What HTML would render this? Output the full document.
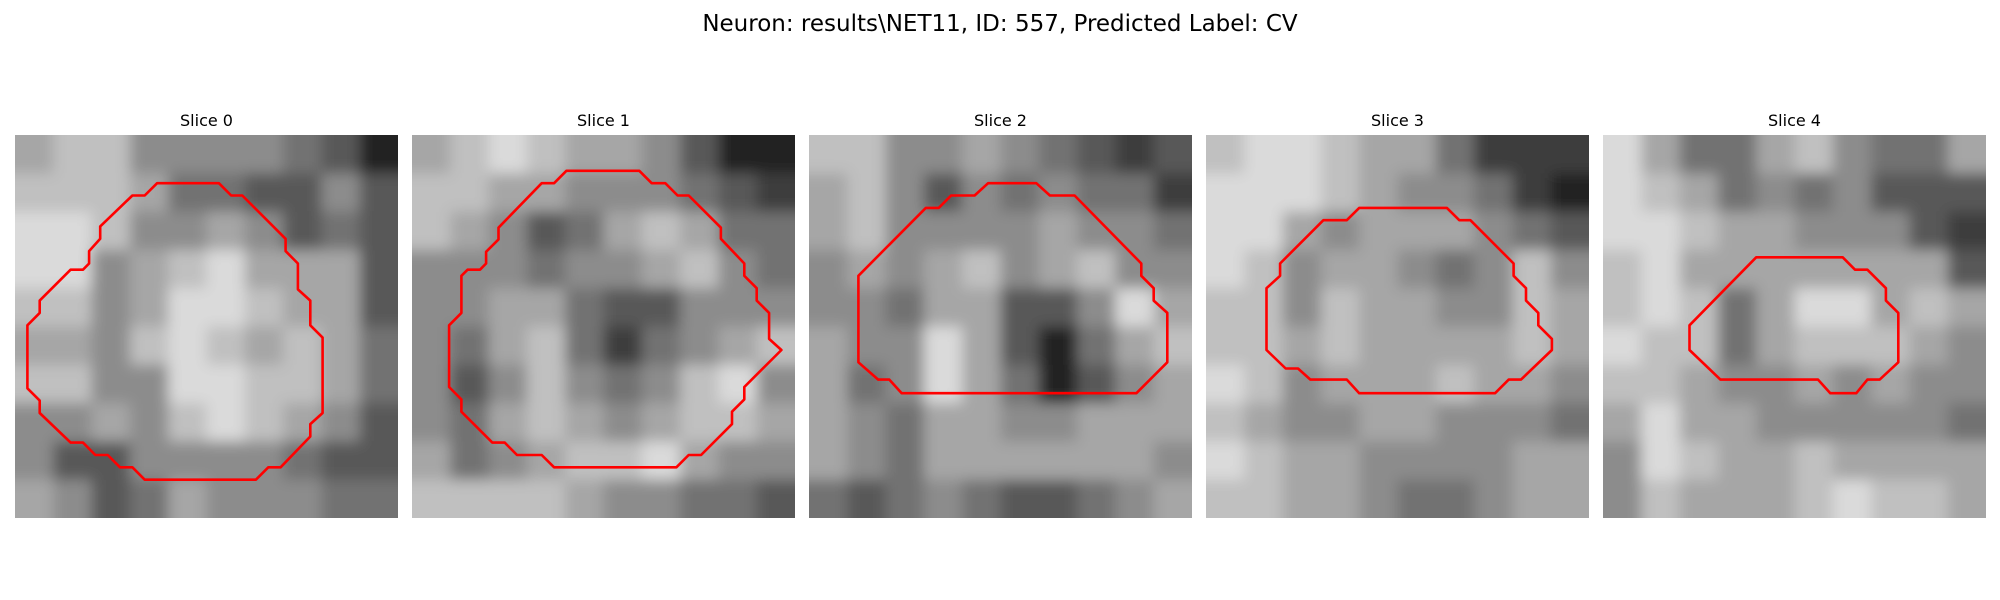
<!DOCTYPE html>
<html><head><meta charset="utf-8"><style>
html,body{margin:0;padding:0;background:#fff;}
svg{display:block;font-family:"Liberation Sans","DejaVu Sans",sans-serif;}
</style></head><body>
<svg id="fig" width="2000" height="600" viewBox="0 0 2000 600">
<defs>
<filter id="soft" x="-15%" y="-15%" width="130%" height="130%"><feGaussianBlur stdDeviation="7"/></filter>
</defs>
<text x="1000" y="31" text-anchor="middle" font-size="23" fill="#000" font-family="DejaVu Sans, Liberation Sans, sans-serif">Neuron: results\NET11, ID: 557, Predicted Label: CV</text>
</svg>
<script>
const sliceTitles = ["Slice 0","Slice 1","Slice 2","Slice 3","Slice 4"];
// coarse intensity maps (0 dark .. 9 light), 10x10 per slice
const slice0 = ["6775555431","7776443353","8875565343","8856786663","7756887663","6657876764","7755887764","5565787653","5335555433","6534655544"];
const slice1 = ["6787665311","7766555432","7653467644","5554556754","5566433555","5467424567","5357545785","5467656776","6456778655","7777655443"];
const slice2 = ["7755654323","6753545442","6755556554","5656756755","5546633586","6558631467","6458641356","6546655666","6546666665","4345433456"];
const slice3 = ["7887664222","8887655421","8865666543","8756654575","7757665576","7767666676","8756667665","7655665554","8766555566","7766544566"];
const slice4 = ["8644675446","8764545333","8876655532","7866666663","7874688676","8774677765","7765565655","6866555554","5876676666","5766678776"];
const slices = [slice0,slice1,slice2,slice3,slice4];
// contour vertices in pixel-grid units (31x31 image)
const contour0 = [[11.5,3.9],[16.5,3.9],[17.5,4.9],[18.4,4.9],[21.9,8.4],[21.9,9.4],[22.9,10.4],[22.9,12.5],[23.9,13.4],[23.9,15.4],[24.9,16.4],[24.9,22.5],[23.9,23.4],[23.9,24.4],[21.5,26.9],[20.5,26.9],[19.5,27.9],[10.5,27.9],[9.5,26.9],[8.5,26.9],[7.5,25.9],[6.5,25.9],[5.5,24.9],[4.5,24.9],[2.0,22.5],[2.0,21.5],[1.0,20.5],[1.0,15.4],[2.0,14.4],[2.0,13.4],[4.5,10.9],[5.5,10.9],[6.0,10.4],[6.0,9.4],[6.9,8.4],[6.9,7.4],[9.5,4.9],[10.5,4.9]];
const contour1 = [[12.5,2.9],[18.4,2.9],[19.4,3.9],[20.5,3.9],[21.5,4.9],[22.4,4.9],[25.0,7.5],[25.0,8.4],[26.9,10.4],[26.9,11.4],[27.9,12.4],[27.9,13.4],[28.9,14.4],[28.9,16.5],[29.9,17.4],[26.9,20.4],[26.9,21.4],[25.9,22.4],[25.9,23.4],[23.4,25.9],[22.4,25.9],[21.4,26.9],[11.5,26.9],[10.5,25.9],[8.5,25.9],[7.5,24.9],[6.5,24.9],[4.0,22.4],[4.0,21.4],[3.0,20.4],[3.0,15.4],[4.0,14.4],[4.0,11.4],[4.5,10.9],[5.5,10.9],[6.0,10.4],[6.0,9.45],[7.0,8.45],[7.0,7.5],[10.5,3.9],[11.5,3.9]];
const contour2 = [[14.5,3.9],[18.4,3.9],[19.5,4.9],[21.5,4.9],[26.9,10.4],[26.9,11.4],[27.9,12.4],[27.9,13.4],[29.0,14.4],[29.0,18.4],[26.5,20.9],[7.5,20.9],[6.5,19.8],[5.6,19.8],[4.0,18.4],[4.0,11.4],[9.45,5.9],[10.5,5.9],[11.5,4.9],[13.4,4.9]];
const contour3 = [[12.4,5.9],[19.5,5.9],[20.5,6.9],[21.4,6.9],[24.9,10.4],[24.9,11.4],[25.9,12.4],[25.9,13.4],[26.9,14.4],[26.9,15.4],[28.0,16.5],[28.0,17.4],[25.5,19.8],[24.5,19.8],[23.4,20.9],[12.4,20.9],[11.4,19.8],[8.45,19.8],[7.45,18.9],[6.45,18.9],[4.9,17.4],[4.9,12.4],[6.0,11.4],[6.0,10.4],[9.5,6.9],[11.4,6.9]];
const contour4 = [[12.4,9.9],[19.4,9.9],[20.4,10.9],[21.4,10.9],[22.9,12.4],[22.9,13.4],[23.9,14.4],[23.9,18.4],[22.4,19.8],[21.4,19.8],[20.5,20.9],[18.4,20.9],[17.4,19.8],[9.5,19.8],[7.0,17.4],[7.0,15.4]];
const contours = [contour0,contour1,contour2,contour3,contour4];

const NS = "http://www.w3.org/2000/svg";
const svg = document.getElementById('fig');
const defs = svg.querySelector('defs');
const panelLeft = i => 15 + i*397;
const panelTop = 135, panelSize = 383, N = 31;
const xScale = (i,u) => panelLeft(i) + u*panelSize/N;
const yScale = v => panelTop + v*panelSize/N;
const gray = d => { const g = Math.round(10 + d*26); return `rgb(${g},${g},${g})`; };
const PAD = 24;

slices.forEach((grid, i) => {
  const cp = document.createElementNS(NS,'clipPath');
  cp.setAttribute('id','clip' + i);
  const cr = document.createElementNS(NS,'rect');
  cr.setAttribute('x', panelLeft(i)); cr.setAttribute('y', panelTop);
  cr.setAttribute('width', panelSize); cr.setAttribute('height', panelSize);
  cp.appendChild(cr); defs.appendChild(cp);

  const g = document.createElementNS(NS,'g');
  
  
  svg.appendChild(g);
  const t = document.createElementNS(NS,'text');
  t.setAttribute('x', panelLeft(i) + panelSize/2);
  t.setAttribute('y', 126);
  t.setAttribute('text-anchor','middle');
  t.setAttribute('font-size','16');
  t.setAttribute('font-family','DejaVu Sans, Liberation Sans, sans-serif');
  t.textContent = sliceTitles[i];
  
  
  g.appendChild(t);
  const clipG = document.createElementNS(NS,'g');
  clipG.setAttribute('clip-path','url(#clip' + i + ')');
  
  
  g.appendChild(clipG);
  const img = document.createElementNS(NS,'g');
  img.setAttribute('filter','url(#soft)');
  clipG.appendChild(img);
  const rows = grid.length, cols = grid[0].length;
  const bw = panelSize/cols, bh = panelSize/rows;
  grid.forEach((row, r) => {
    for (let c = 0; c < cols; c++) {
      let x = panelLeft(i) + c*bw, y = panelTop + r*bh, w = bw + 0.5, h = bh + 0.5;
      if (c === 0) { x -= PAD; w += PAD; }
      if (c === cols-1) { w += PAD; }
      if (r === 0) { y -= PAD; h += PAD; }
      if (r === rows-1) { h += PAD; }
      const rect = document.createElementNS(NS,'rect');
      rect.setAttribute('x', x);
      rect.setAttribute('y', y);
      rect.setAttribute('width', w);
      rect.setAttribute('height', h);
      rect.setAttribute('fill', gray(+row[c]));
      
      
      img.appendChild(rect);
    }
  });
  const poly = document.createElementNS(NS,'polygon');
  poly.setAttribute('points', contours[i].map(p => xScale(i,p[0]).toFixed(1) + ',' + yScale(p[1]).toFixed(1)).join(' '));
  poly.setAttribute('fill','none');
  poly.setAttribute('stroke','#ff0000');
  poly.setAttribute('stroke-width','2.6');
  poly.setAttribute('stroke-linejoin','round');
  
  
  g.appendChild(poly);
});
</script>
</body></html>
